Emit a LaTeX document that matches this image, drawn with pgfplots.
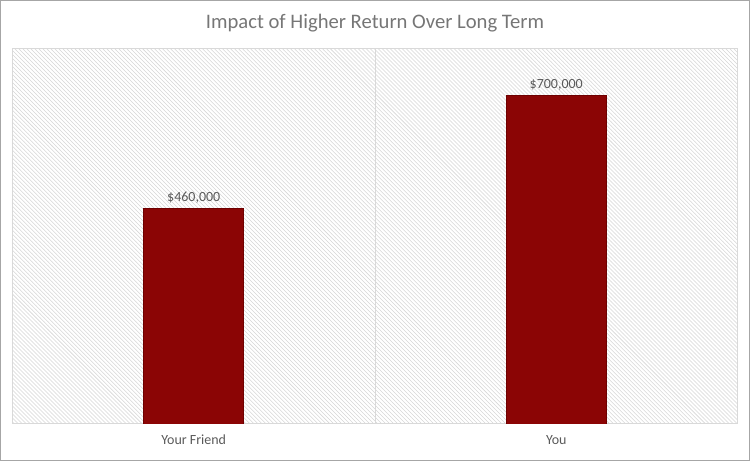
\documentclass[border=0pt]{standalone}
\usepackage{pgfplots}
\pgfplotsset{compat=1.18}
\usepackage{fontspec}
\setmainfont{Carlito}
\usetikzlibrary{patterns}

\definecolor{barred}{RGB}{139,5,5}
\definecolor{bardark}{RGB}{110,0,0}
\definecolor{txtgray}{RGB}{89,89,89}
\definecolor{titlegray}{RGB}{118,118,118}
\definecolor{framegray}{RGB}{217,217,217}

\begin{document}
\begin{tikzpicture}
  % outer chart frame, 750x461 px at 0.75pt per px
  \draw[gray!70, line width=0.75pt] (-9pt,-27.75pt) rectangle (553.5pt,318pt);
  \begin{axis}[
      at={(0,0)}, anchor=south west,
      scale only axis,
      width=544.5pt, height=282pt,
      ymin=0, ymax=800000,
      xmin=-0.5, xmax=1.5,
      ybar, bar width=75pt,
      xtick={0,1},
      xticklabels={Your Friend, You},
      xticklabel style={anchor=center, yshift=-12pt, font=\fontsize{10.5}{12}\selectfont, text=txtgray},
      major tick length=0pt,
      ytick=\empty,
      extra x ticks={0.5},
      extra x tick labels={},
      extra x tick style={grid=major, major grid style={framegray, line width=0.75pt}},
      axis line style={framegray, line width=0.75pt},
      axis background/.style={pattern=north west lines, pattern color=black!16},
      title={Impact of Higher Return Over Long Term},
      title style={at={(0.5,1)}, anchor=center, yshift=13pt,
        font=\fontsize{15.5}{18}\selectfont, text=titlegray},
      nodes near coords={\$\pgfmathprintnumber{\pgfplotspointmeta}},
      nodes near coords style={font=\fontsize{10.5}{12}\selectfont, text=txtgray, yshift=0pt},
      /pgf/number format/.cd, fixed, 1000 sep={,}, assume math mode=true,
    ]
    \addplot[fill=barred, draw=bardark, line width=0.6pt]
      coordinates {(0,460000) (1,700000)};
  \end{axis}
\end{tikzpicture}
\end{document}
